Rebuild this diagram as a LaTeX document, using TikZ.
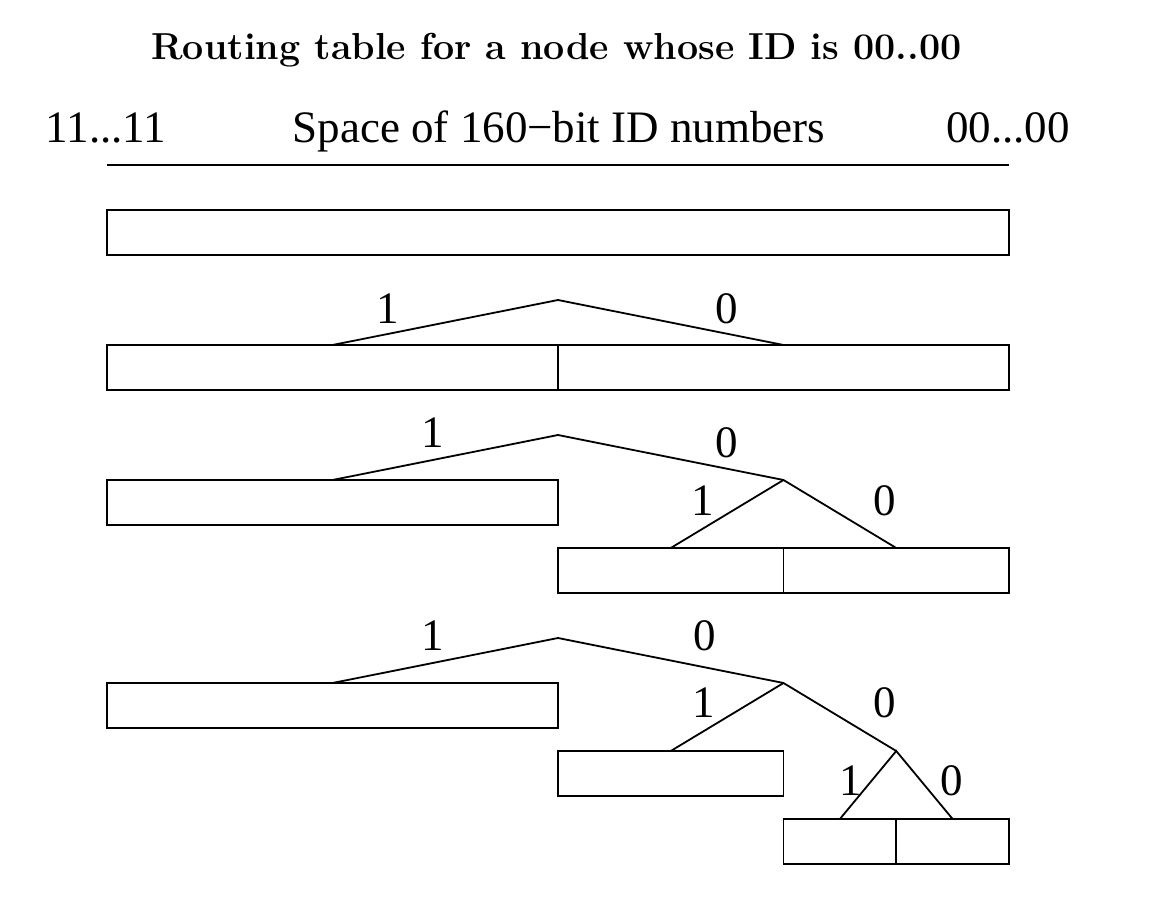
\documentclass[tikz,border=0pt]{standalone}
\usepackage{fontspec}
\newfontfamily\timesf{Liberation Serif}
\begin{document}
\begin{tikzpicture}[x=1pt,y=-1pt,
  box/.style={draw, line width=1.8pt, rectangle, inner sep=0pt, outer sep=0pt, minimum height=45pt, anchor=north west},
  lbl/.style={font=\timesf\fontsize{45}{50}\selectfont, anchor=base, inner sep=0pt},
  edge/.style={line width=1.8pt, line join=miter}]
\useasboundingbox (0,0) rectangle (1152,898);
% title and header
\node[font=\bfseries\fontsize{37.6}{41}\selectfont, anchor=base, inner sep=0pt] (title) at (556.5,59) {Routing table for a node whose ID is 00..00};
\node[lbl] (hl) at (106,142) {11...11};
\node[lbl] (hc) at (559,142) {Space of 160−bit ID numbers};
\node[lbl] (hr) at (1008,142) {00...00};
\coordinate (axL) at (107,165);
\coordinate (axR) at (1009,165);
\draw[edge] (axL) -- (axR);
% row 1
\node[box, minimum width=902pt] (r1) at (107,210) {};
% row 2
\node[box, minimum width=451pt] (r2a) at (107,345) {};
\node[box, minimum width=451pt] (r2b) at (558,345) {};
\coordinate (t2) at (558,300);
\draw[edge] (r2a.north) -- (t2) -- (r2b.north);
\node[lbl] (l2a) at (388,323) {1};
\node[lbl] (l2b) at (727,323) {0};
% row 3
\node[box, minimum width=451pt] (r3a) at (107,480) {};
\node[box, minimum width=225.5pt] (r3b) at (558,548) {};
\node[box, minimum width=225.5pt] (r3c) at (783.5,548) {};
\coordinate (t3) at (558,435);
\coordinate (t3b) at (783.5,480);
\draw[edge] (r3a.north) -- (t3) -- (t3b);
\draw[edge] (r3b.north) -- (t3b) -- (r3c.north);
\node[lbl] (l3a) at (433,447) {1};
\node[lbl] (l3b) at (727,457) {0};
\node[lbl] (l3c) at (703,515) {1};
\node[lbl] (l3d) at (885,515) {0};
% row 4
\node[box, minimum width=451pt] (r4a) at (107,683) {};
\node[box, minimum width=225.5pt] (r4b) at (558,751) {};
\node[box, minimum width=112.75pt] (r4c) at (783.5,819) {};
\node[box, minimum width=112.75pt] (r4d) at (896.25,819) {};
\coordinate (t4) at (558,638);
\coordinate (t4b) at (783.5,683);
\coordinate (t4c) at (896.25,751);
\draw[edge] (r4a.north) -- (t4) -- (t4b);
\draw[edge] (r4b.north) -- (t4b) -- (t4c);
\draw[edge] (r4c.north) -- (t4c) -- (r4d.north);
\node[lbl] (l4a) at (433,650) {1};
\node[lbl] (l4b) at (705,650) {0};
\node[lbl] (l4c) at (704,717) {1};
\node[lbl] (l4d) at (885,717) {0};
\node[lbl] (l4e) at (851,795) {1};
\node[lbl] (l4f) at (952,795) {0};
\end{tikzpicture}
\end{document}
